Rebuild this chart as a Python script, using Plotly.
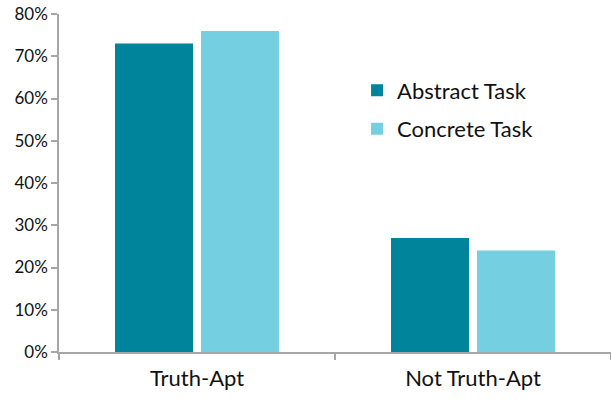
import plotly.graph_objects as go

categories = ["Truth-Apt", "Not Truth-Apt"]
abstract_task = [0.73, 0.27]
concrete_task = [0.76, 0.24]
y_ticks = [0, 0.1, 0.2, 0.3, 0.4, 0.5, 0.6, 0.7, 0.8]
y_tick_labels = ["0%", "10%", "20%", "30%", "40%", "50%", "60%", "70%", "80%"]

dark_teal = "#00849C"
light_teal = "#74CFE0"
axis_grey = "#A6A6A6"
font_family = "Lato, Carlito, Liberation Sans, sans-serif"

fig = go.Figure()
fig.add_trace(go.Bar(
    x=categories, y=abstract_task, name="Abstract Task",
    marker=dict(color=dark_teal, line=dict(width=0)),
    legendgroup="a",
))
fig.add_trace(go.Bar(
    x=categories, y=concrete_task, name="Concrete Task",
    marker=dict(color=light_teal, line=dict(width=0)),
    legendgroup="b",
))

fig.update_layout(
    width=611, height=403,
    margin=dict(l=59, r=0, t=14, b=51),
    paper_bgcolor="white", plot_bgcolor="white",
    barmode="group",
    bargap=0.377,
    bargroupgap=0.093,
    font=dict(family=font_family, color="#111111"),
    legend=dict(
        x=0.54, y=0.836, xanchor="left", yanchor="top",
        font=dict(size=22, color="#111111"),
        bgcolor="rgba(0,0,0,0)",
        tracegroupgap=7,
        itemwidth=30,
    ),
    xaxis=dict(
        showline=True, linecolor=axis_grey, linewidth=1.5,
        ticks="outside", ticklen=6, tickcolor=axis_grey, tickwidth=1.5,
        tickson="boundaries",
        tickfont=dict(size=22, color="#111111"),
        ticklabelstandoff=6,
        showgrid=False, zeroline=False,
    ),
    yaxis=dict(
        range=[0, 0.8],
        tickvals=y_ticks, ticktext=y_tick_labels,
        showline=True, linecolor=axis_grey, linewidth=1.5,
        ticks="outside", ticklen=6, tickcolor=axis_grey, tickwidth=1.5,
        tickfont=dict(size=17, color="#111111"),
        showgrid=False, zeroline=False,
    ),
)

fig.write_html("out.html")
